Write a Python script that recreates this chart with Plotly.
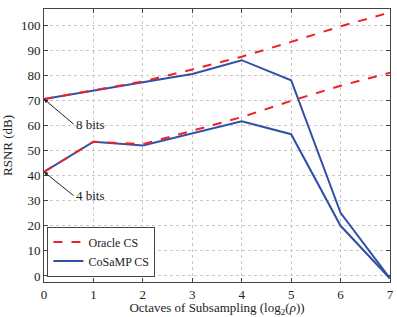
import plotly.graph_objects as go

x = [0, 1, 2, 3, 4, 5, 6, 7]
oracle_8 = [70.5, 74, 77.5, 82.3, 87.4, 93.3, 99.5, 105]
oracle_4 = [41.5, 53.5, 52.5, 58, 63.3, 69.8, 75.8, 81]
cosamp_8 = [70.5, 74, 77.2, 80.5, 86, 78, 25.2, -1]
cosamp_4 = [41.5, 53.5, 52, 57, 61.7, 56.5, 20, -1]
xticks = [0, 1, 2, 3, 4, 5, 6, 7]
yticks = [0, 10, 20, 30, 40, 50, 60, 70, 80, 90, 100]

font = "Liberation Serif"
red = "#f0202a"
blue = "#3050a8"

fig = go.Figure()
fig.add_trace(go.Scatter(x=x, y=cosamp_8, mode="lines", line=dict(color=blue, width=2), showlegend=False))
fig.add_trace(go.Scatter(x=x, y=cosamp_4, mode="lines", line=dict(color=blue, width=2), name="CoSaMP CS"))
fig.add_trace(go.Scatter(x=x, y=oracle_8, mode="lines", line=dict(color=red, width=2, dash="dash"), showlegend=False))
fig.add_trace(go.Scatter(x=x, y=oracle_4, mode="lines", line=dict(color=red, width=2, dash="dash"), name="Oracle CS"))

fig.add_annotation(x=0, y=oracle_8[0], ax=0.6, ay=60.5, axref="x", ayref="y", text="8 bits",
                   showarrow=True, arrowhead=2, arrowsize=0.8, arrowwidth=1, arrowcolor="#222",
                   xanchor="left", yanchor="middle", font=dict(family=font, size=13, color="#222"))
fig.add_annotation(x=0, y=oracle_4[0], ax=0.6, ay=32, axref="x", ayref="y", text="4 bits",
                   showarrow=True, arrowhead=2, arrowsize=0.8, arrowwidth=1, arrowcolor="#222",
                   xanchor="left", yanchor="middle", font=dict(family=font, size=13, color="#222"))

axcommon = dict(showline=True, linecolor="#444", linewidth=1, mirror="allticks", ticks="inside",
                ticklen=4, tickcolor="#444", showgrid=True, gridcolor="#c8c8c8", griddash="dot",
                gridwidth=1, zeroline=False, automargin=False,
                tickfont=dict(family=font, size=13, color="#222"))
fig.update_xaxes(range=[0, 7], tickvals=xticks, title=dict(text="Octaves of Subsampling (log<sub>2</sub>(<i>ρ</i>))",
                 font=dict(family=font, size=13, color="#222"), standoff=0), **axcommon)
fig.update_yaxes(range=[-2.4, 106.4], tickvals=yticks, title=dict(text="RSNR (dB)",
                 font=dict(family=font, size=13, color="#222"), standoff=6), **axcommon)

fig.update_layout(
    width=397, height=317, margin=dict(l=44, r=7, t=9, b=35),
    font=dict(family=font, color="#222"),
    plot_bgcolor="white", paper_bgcolor="white",
    legend=dict(x=0.01, y=0.02, xanchor="left", yanchor="bottom", traceorder="reversed",
                bgcolor="white", bordercolor="#444", borderwidth=1, itemwidth=30,
                font=dict(family=font, size=12, color="#222"), tracegroupgap=0),
)
fig.write_html("out.html", config={"displayModeBar": False},
               post_script="document.body.style.margin='0';document.body.style.overflow='hidden';")
